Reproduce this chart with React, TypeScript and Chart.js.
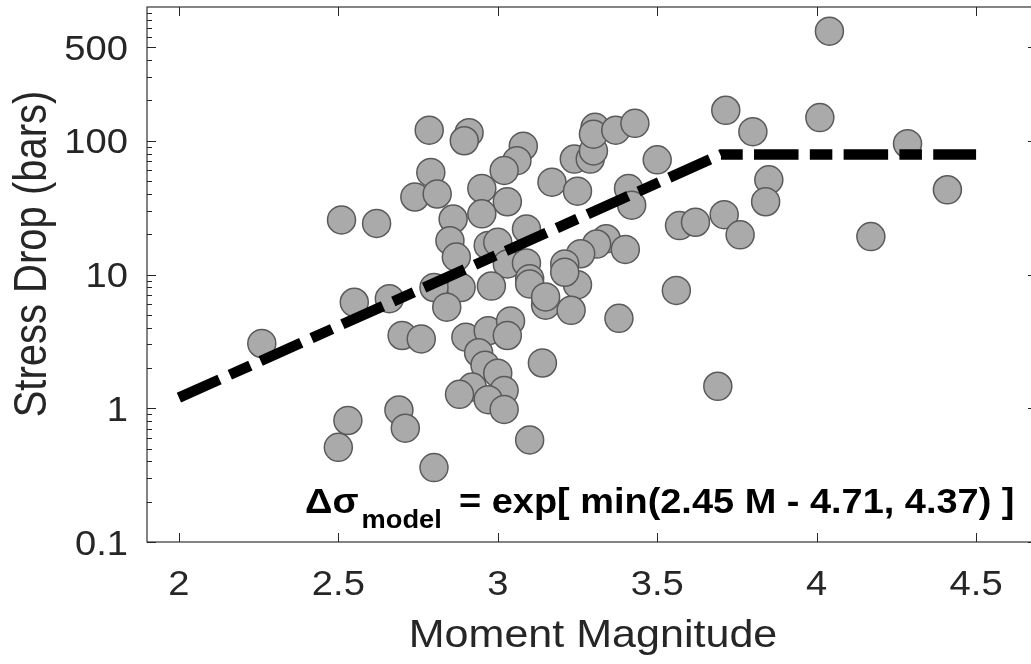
import React, { useEffect, useRef } from 'react';
import { Chart, registerables } from 'chart.js';

Chart.register(...registerables);

// ---- data ----
const magnitudes = [
  2.26, 2.51, 2.62, 2.55, 2.66, 2.53, 2.5, 2.69, 2.71, 2.8,
  2.7, 2.76, 2.785, 2.91, 2.895, 3.08, 3.06, 3.02, 2.79, 2.74,
  2.81, 2.95, 3.03, 2.95, 2.86, 2.85, 2.87, 2.97, 3.0, 3.09,
  3.03, 3.09, 3.1, 2.98, 2.885, 2.8, 2.84, 3.1, 3.25, 3.15,
  3.23, 3.38, 2.9, 2.97, 3.04, 3.03, 2.94, 2.96, 3.0, 3.14,
  2.92, 2.88, 3.02, 2.97, 3.02, 3.1, 3.17, 3.25, 3.24, 3.29,
  3.3, 3.305, 3.3, 3.37, 3.43, 3.5, 3.41, 3.42, 3.34, 3.31,
  3.4, 3.26, 3.21, 3.21, 3.15, 3.57, 3.62, 3.71, 3.76, 3.56,
  3.69, 3.715, 3.8, 4.01, 4.04, 4.285, 4.41, 3.85, 3.84, 4.17,
];
const stressDrops = [
  3.05, 25.6, 24.1, 6.2, 6.6, 0.81, 0.51, 0.97, 0.71, 0.36,
  3.5, 3.3, 120, 115, 100, 91, 71, 60, 58, 38,
  40, 44, 35, 28.4, 26, 17.9, 13.5, 16.5, 17.4, 21.9,
  12.0, 12.2, 9.3, 8.2, 8.0, 8.0, 5.7, 8.5, 8.4, 5.9,
  5.4, 4.7, 3.4, 3.8, 4.5, 3.5, 2.6, 2.1, 1.83, 2.18,
  1.44, 1.27, 1.36, 1.16, 0.98, 0.58, 49, 42, 73, 73,
  84, 126, 112, 120, 135, 72, 44, 33, 18.5, 16.9,
  15.4, 14.3, 12.0, 10.4, 6.8, 23.2, 24.6, 28.0, 19.8, 7.6,
  1.46, 169, 117, 149, 660, 95, 43, 51, 35, 19.2,
];
const modelMagnitudes = [2, 3.7, 4.5];
const modelStress = [1.2, 79, 79];

const xTickValues = [2, 2.5, 3, 3.5, 4, 4.5];
const xTickLabels = ['2', '2.5', '3', '3.5', '4', '4.5'];
const yTickValues = [0.1, 1, 10, 100, 500];
const yTickLabels = ['0.1', '1', '10', '100', '500'];
const xAxisTitle = 'Moment Magnitude';
const yAxisTitle = 'Stress Drop (bars)';
const annotationMain = 'Δσ';
const annotationSub = 'model';
const annotationRest = '= exp[ min(2.45 M - 4.71, 4.37) ]';

const SX = 1.09; // horizontal text stretch
const TEXT = '#262626';
const FONT = '"Liberation Sans", Arial, Helvetica, sans-serif';

function drawText(
  ctx: CanvasRenderingContext2D,
  text: string,
  x: number,
  y: number,
  align: 'left' | 'center' | 'right',
  font: string,
  sx: number = SX,
  sy: number = 1
) {
  ctx.save();
  ctx.font = font;
  const w = ctx.measureText(text).width * sx;
  const x0 = align === 'center' ? x - w / 2 : align === 'right' ? x - w : x;
  ctx.translate(x0, y);
  ctx.scale(sx, sy);
  ctx.textAlign = 'left';
  ctx.textBaseline = 'alphabetic';
  ctx.fillText(text, 0, 0);
  ctx.restore();
  return w;
}

const axesPlugin = {
  id: 'matlabAxes',
  afterDraw(chart: any) {
    const { ctx, chartArea: a, scales } = chart;
    const xs = scales.x;
    const ys = scales.y;
    ctx.save();
    ctx.strokeStyle = '#333333';
    ctx.lineWidth = 1.2;
    ctx.strokeRect(a.left, a.top, a.right - a.left, a.bottom - a.top);

    ctx.lineWidth = 1;
    ctx.strokeStyle = '#262626';
    ctx.beginPath();
    xTickValues.forEach((v) => {
      const px = Math.round(xs.getPixelForValue(v)) + 0.5;
      ctx.moveTo(px, a.bottom);
      ctx.lineTo(px, a.bottom - 9);
      ctx.moveTo(px, a.top);
      ctx.lineTo(px, a.top + 9);
    });
    const minor: number[] = [];
    for (let e = -1; e <= 2; e++) {
      for (let k = 2; k <= 9; k++) {
        const v = k * Math.pow(10, e);
        if (!yTickValues.some((t) => Math.abs(t - v) < 1e-9)) minor.push(v);
      }
    }
    yTickValues.forEach((v) => {
      const py = Math.round(ys.getPixelForValue(v)) + 0.5;
      ctx.moveTo(a.left, py);
      ctx.lineTo(a.left + 9, py);
      ctx.moveTo(a.right, py);
      ctx.lineTo(a.right - 9, py);
    });
    minor.forEach((v) => {
      const py = Math.round(ys.getPixelForValue(v)) + 0.5;
      ctx.moveTo(a.left, py);
      ctx.lineTo(a.left + 5, py);
      ctx.moveTo(a.right, py);
      ctx.lineTo(a.right - 5, py);
    });
    ctx.stroke();

    ctx.fillStyle = TEXT;
    const tickFont = `35px ${FONT}`;
    xTickValues.forEach((v, i) => {
      drawText(ctx, xTickLabels[i], xs.getPixelForValue(v), 595, 'center', tickFont);
    });
    yTickValues.forEach((v, i) => {
      drawText(ctx, yTickLabels[i], 128, ys.getPixelForValue(v) + 12.5, 'right', tickFont);
    });

    drawText(ctx, xAxisTitle, 593, 647, 'center', `39.5px ${FONT}`);

    ctx.save();
    ctx.translate(46, 254);
    ctx.rotate(-Math.PI / 2);
    drawText(ctx, yAxisTitle, 0, 0, 'center', `40px ${FONT}`, 1, 1.15);
    ctx.restore();

    ctx.fillStyle = '#000000';
    const w1 = drawText(ctx, annotationMain, 305, 513, 'left', `bold 35px ${FONT}`);
    drawText(ctx, annotationSub, 305 + w1 + 3, 528, 'left', `bold 25px ${FONT}`);
    drawText(ctx, annotationRest, 459, 513, 'left', `bold 34.8px ${FONT}`);
    ctx.restore();
  },
};

export default function App() {
  const canvasRef = useRef<HTMLCanvasElement | null>(null);

  useEffect(() => {
    const canvas = canvasRef.current;
    if (!canvas) return;
    const points = magnitudes.map((m, i) => ({ x: m, y: stressDrops[i] }));
    const model = modelMagnitudes.map((m, i) => ({ x: m, y: modelStress[i] }));
    const chart = new Chart(canvas, {
      type: 'scatter',
      data: {
        datasets: [
          {
            label: 'model',
            data: model,
            showLine: true,
            borderColor: '#000000',
            backgroundColor: '#000000',
            borderWidth: 10.5,
            borderDash: [44.5, 11.3, 22.5, 11.3],
            borderCapStyle: 'butt',
            pointRadius: 0,
            tension: 0,
            fill: false,
            order: 0,
          } as any,
          {
            label: 'events',
            data: points,
            backgroundColor: '#aaaaaa',
            borderColor: '#5a5a5a',
            borderWidth: 1.5,
            pointRadius: 14,
            pointHoverRadius: 14,
            showLine: false,
            order: 1,
          } as any,
        ],
      },
      options: {
        responsive: false,
        maintainAspectRatio: false,
        animation: false,
        events: [],
        layout: { autoPadding: false, padding: { top: 7, right: 8, left: 0, bottom: 0 } },
        plugins: { legend: { display: false }, tooltip: { enabled: false } },
        scales: {
          x: {
            type: 'linear',
            min: 1.9,
            max: 4.691,
            grid: { display: false },
            border: { display: false },
            ticks: { display: false },
            afterFit: (s: any) => {
              s.height = 122;
            },
          },
          y: {
            type: 'logarithmic',
            min: 0.1,
            max: 1000,
            grid: { display: false },
            border: { display: false },
            ticks: { display: false },
            afterFit: (s: any) => {
              s.width = 147;
            },
          },
        },
      },
      plugins: [axesPlugin],
    });
    return () => chart.destroy();
  }, []);

  return (
    <div
      style={{
        position: 'fixed',
        left: 0,
        top: 0,
        width: 1031,
        height: 664,
        overflow: 'hidden',
        background: '#ffffff',
      }}
    >
      <canvas
        ref={canvasRef}
        width={1045}
        height={664}
        style={{ display: 'block', width: 1045, height: 664 }}
      />
    </div>
  );
}
